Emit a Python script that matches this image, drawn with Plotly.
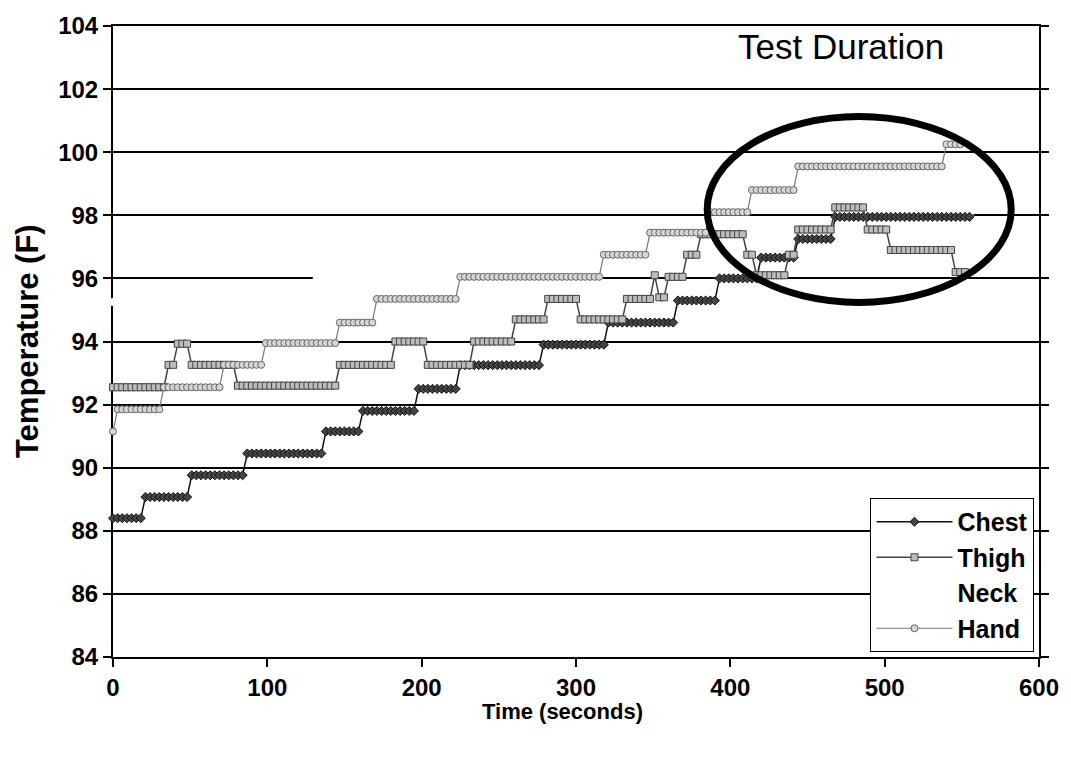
import plotly.graph_objects as go

# Step changes of each sensor: time (s) at which a new reading starts, and the reading (F)
chest_steps_t = [0, 19, 50, 86, 136, 162, 196, 224, 277, 319, 366, 392, 420, 443, 468]
chest_steps_T = [88.4, 89.07, 89.76, 90.45, 91.15, 91.8, 92.5, 93.25, 93.9, 94.6, 95.3,
                 96.0, 96.66, 97.25, 97.95]
chest_end = 555

thigh_steps_t = [0, 35, 40, 50, 80, 145, 183, 204, 232, 261, 281, 302, 333, 351, 354,
                 358, 371, 381, 410, 415, 437, 444, 468, 489, 503, 545]
thigh_steps_T = [92.55, 93.26, 93.93, 93.26, 92.6, 93.26, 94.0, 93.26, 94.0, 94.7, 95.35,
                 94.7, 95.35, 96.1, 95.4, 96.05, 96.75, 97.4, 96.75, 96.1, 96.75, 97.55,
                 98.25, 97.55, 96.9, 96.2]
thigh_end = 553

neck_steps_t = [0, 60, 130, 317, 386, 440, 488]
neck_steps_T = [95.25, 95.6, 96.0, 96.7, 97.4, 97.6, 98.0]
neck_end = 556

hand_steps_t = [0, 3, 31, 72, 99, 146, 169, 225, 318, 347, 386, 414, 442, 538]
hand_steps_T = [91.15, 91.85, 92.55, 93.26, 93.95, 94.6, 95.35, 96.05, 96.75, 97.45,
                98.1, 98.8, 99.55, 100.25]
hand_end = 551

SAMPLE_DT = 3  # logger interval, seconds


def readings(steps_t, steps_T, end):
    """Logged samples: each sample holds the most recent step reading."""
    ts, vals = [], []
    t = 0
    while t <= end:
        k = max(i for i, s in enumerate(steps_t) if s <= t)
        ts.append(t)
        vals.append(steps_T[k])
        t += SAMPLE_DT
    return ts, vals


FONT = "Liberation Sans, Arial, sans-serif"

fig = go.Figure()

nt, nv = readings(neck_steps_t, neck_steps_T, neck_end)
fig.add_trace(go.Scatter(
    x=nt, y=nv, name="Neck", mode="lines+markers",
    line=dict(color="white", width=4),
    marker=dict(symbol="circle", size=8, color="white"),
    cliponaxis=False, legendgroup="n", legendrank=3))

ct, cv = readings(chest_steps_t, chest_steps_T, chest_end)
fig.add_trace(go.Scatter(
    x=ct, y=cv, name="Chest", mode="lines+markers",
    line=dict(color="#111111", width=1.5),
    marker=dict(symbol="diamond", size=7, color="#444444",
                line=dict(color="#111111", width=1)),
    cliponaxis=False, legendgroup="c", legendrank=1))

tt, tv = readings(thigh_steps_t, thigh_steps_T, thigh_end)
fig.add_trace(go.Scatter(
    x=tt, y=tv, name="Thigh", mode="lines+markers",
    line=dict(color="#444444", width=1.5),
    marker=dict(symbol="square", size=7, color="#bdbdbd",
                line=dict(color="#444444", width=1)),
    cliponaxis=False, legendgroup="t", legendrank=2))

ht, hv = readings(hand_steps_t, hand_steps_T, hand_end)
fig.add_trace(go.Scatter(
    x=ht, y=hv, name="Hand", mode="lines+markers",
    line=dict(color="#777777", width=1.2),
    marker=dict(symbol="circle", size=7, color="#d6d6d6",
                line=dict(color="#666666", width=1)),
    cliponaxis=False, legendgroup="h", legendrank=4))

# circled region at the end of the test
fig.add_shape(type="circle", xref="x", yref="y", x0=385, x1=582, y0=95.24, y1=101.13,
              line=dict(color="black", width=7), layer="above")

fig.add_annotation(x=472, y=103.35, xref="x", yref="y", text="Test Duration",
                   showarrow=False, xanchor="center", yanchor="middle",
                   font=dict(family=FONT, size=35, color="black"))

fig.add_annotation(x=-0.0923, y=0.5, xref="paper", yref="paper", text="Temperature (F)",
                   textangle=-90, showarrow=False, xanchor="center", yanchor="middle",
                   font=dict(family=FONT, size=31, color="black", weight="bold"))
fig.add_annotation(x=0.485, y=-0.0866, xref="paper", yref="paper", text="Time (seconds)",
                   showarrow=False, xanchor="center", yanchor="middle",
                   font=dict(family=FONT, size=22, color="black", weight="bold"))

axis_common = dict(
    showline=True, linecolor="black", linewidth=2,
    ticks="outside", ticklen=8, tickwidth=1.5, tickcolor="black",
    zeroline=False, layer="below traces",
    tickfont=dict(family=FONT, size=24, color="black", weight="bold"),
)

fig.update_xaxes(range=[0, 600], tickvals=[0, 100, 200, 300, 400, 500, 600],
                 showgrid=False, mirror=True, **axis_common)
fig.update_yaxes(range=[84, 104], tickvals=list(range(84, 105, 2)),
                 showgrid=True, gridcolor="black", gridwidth=1.5, mirror="ticks",
                 **axis_common)

fig.update_layout(
    width=1071, height=757, autosize=False,
    margin=dict(l=113, r=26, t=22, b=100),
    plot_bgcolor="white", paper_bgcolor="white",
    showlegend=True,
    legend=dict(x=0.818, y=0.252, xanchor="left", yanchor="top",
                bgcolor="white", bordercolor="black", borderwidth=1,
                font=dict(family=FONT, size=25, color="black", weight="bold"),
                traceorder="normal", tracegroupgap=0, itemwidth=76),
)

fig.write_html("out.html")
